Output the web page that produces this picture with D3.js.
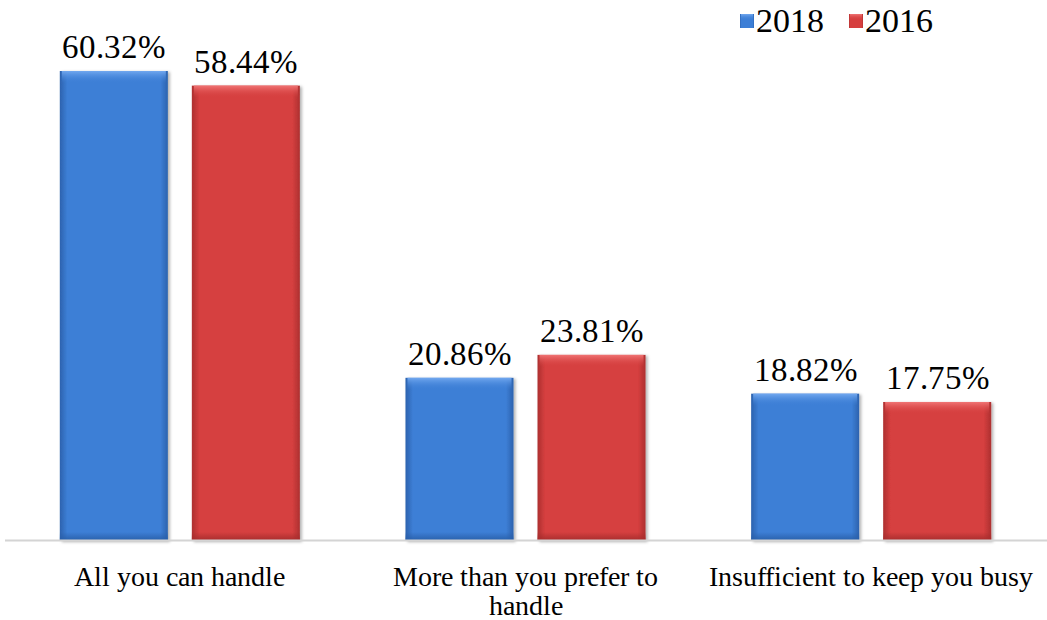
<!DOCTYPE html>
<html><head><meta charset="utf-8">
<script src="https://cdn.jsdelivr.net/npm/d3@7"></script>
<style>
@font-face { font-family: "RefSerif"; src: local("Liberation Serif"), local("LiberationSerif"), local("Liberation Serif Regular"), local("LiberationSerif-Regular"); }
body{margin:0;background:#fff}
</style>
</head><body>
<script>
const categories = ["All you can handle", "More than you prefer to handle", "Insufficient to keep you busy"];
const categoryLines = [["All you can handle"], ["More than you prefer to", "handle"], ["Insufficient to keep you busy"]];
const seriesNames = ["2018", "2016"];
const values2018 = [60.32, 20.86, 18.82];
const values2016 = [58.44, 23.81, 17.75];
const seriesValues = [values2018, values2016];

const W = 1047, H = 620;
const FAM = '"RefSerif", "Liberation Serif", Tinos, serif';
const svg = d3.select("body").append("svg").attr("width", W).attr("height", H).style("display", "block");
const defs = svg.append("defs");

const pal = {
  "2018": {main: "#3d7fd6", light: "#72a8ef", dark: "#285ea8", edge: "#2c62ae"},
  "2016": {main: "#d63f3f", light: "#f07474", dark: "#a52c2c", edge: "#ad3030"}
};
seriesNames.forEach((s, i) => {
  const c = pal[s];
  const h = defs.append("linearGradient").attr("id", "h" + i).attr("x1", 0).attr("x2", 1).attr("y1", 0).attr("y2", 0);
  [[0, c.edge], [0.07, c.main], [0.93, c.main], [1, c.edge]].forEach(([o, col]) => h.append("stop").attr("offset", o).attr("stop-color", col));
  const t = defs.append("linearGradient").attr("id", "t" + i).attr("x1", 0).attr("x2", 0).attr("y1", 0).attr("y2", 1);
  [[0, c.light, 1], [1, c.main, 0]].forEach(([o, col, op]) => t.append("stop").attr("offset", o).attr("stop-color", col).attr("stop-opacity", op));
  const b = defs.append("linearGradient").attr("id", "b" + i).attr("x1", 0).attr("x2", 0).attr("y1", 0).attr("y2", 1);
  [[0, c.dark, 0], [1, c.dark, 1]].forEach(([o, col, op]) => b.append("stop").attr("offset", o).attr("stop-color", col).attr("stop-opacity", op));
});
const f = defs.append("filter").attr("id", "sh").attr("x", "-10%").attr("y", "-10%").attr("width", "130%").attr("height", "130%");
f.append("feDropShadow").attr("dx", 2).attr("dy", 1).attr("stdDeviation", 1.5).attr("flood-color", "#000").attr("flood-opacity", 0.3);

const baseY = 540;
const y = d3.scaleLinear().domain([0, 70]).range([baseY, baseY - 7.775 * 70]);
const x0 = d3.scaleBand().domain(categories).range([7, 1044]).paddingInner(0).paddingOuter(0);
const x1 = d3.scaleBand().domain(seriesNames).range([0, x0.bandwidth()]).paddingInner(0.1818).paddingOuter(0.4);

categories.forEach((cat, ci) => {
  seriesNames.forEach((s, si) => {
    const v = seriesValues[si][ci];
    const bx = x0(cat) + x1(s), bw = x1.bandwidth();
    const top = y(v), hgt = baseY + 1 - top;
    const g = svg.append("g");
    g.append("rect").attr("x", bx).attr("y", top).attr("width", bw).attr("height", hgt)
      .attr("fill", `url(#h${si})`).attr("filter", "url(#sh)");
    g.append("rect").attr("x", bx + 2).attr("y", top).attr("width", bw - 4).attr("height", Math.min(12, hgt))
      .attr("fill", `url(#t${si})`);
    g.append("rect").attr("x", bx).attr("y", baseY - 8).attr("width", bw).attr("height", 9)
      .attr("fill", `url(#b${si})`);
    svg.append("text").attr("x", bx + bw / 2).attr("y", top - 13)
      .attr("text-anchor", "middle").style("font-family", FAM).style("font-size", "33px")
      .attr("fill", "#000").text(v.toFixed(2) + "%");
  });
});

svg.append("line").attr("x1", 5).attr("x2", W).attr("y1", baseY + 0.5).attr("y2", baseY + 0.5)
  .attr("stroke", "#d4d4d4").attr("stroke-width", 2);

categories.forEach((cat, ci) => {
  const t = svg.append("text").attr("text-anchor", "middle").style("font-family", FAM).style("font-size", "28px")
    .attr("fill", "#000");
  categoryLines[ci].forEach((ln, li) => {
    t.append("tspan").attr("x", x0(cat) + x0.bandwidth() / 2).attr("y", 586 + li * 29).text(ln);
  });
});

const legX = [740, 849];
seriesNames.forEach((s, si) => {
  svg.append("rect").attr("x", legX[si]).attr("y", 14).attr("width", 14).attr("height", 14)
    .attr("fill", `url(#h${si})`);
  svg.append("rect").attr("x", legX[si] + 1).attr("y", 14).attr("width", 12).attr("height", 6)
    .attr("fill", `url(#t${si})`);
  svg.append("text").attr("x", legX[si] + 16).attr("y", 32).style("font-family", FAM).style("font-size", "34px")
    .attr("fill", "#000").text(s);
});
</script>
</body></html>
